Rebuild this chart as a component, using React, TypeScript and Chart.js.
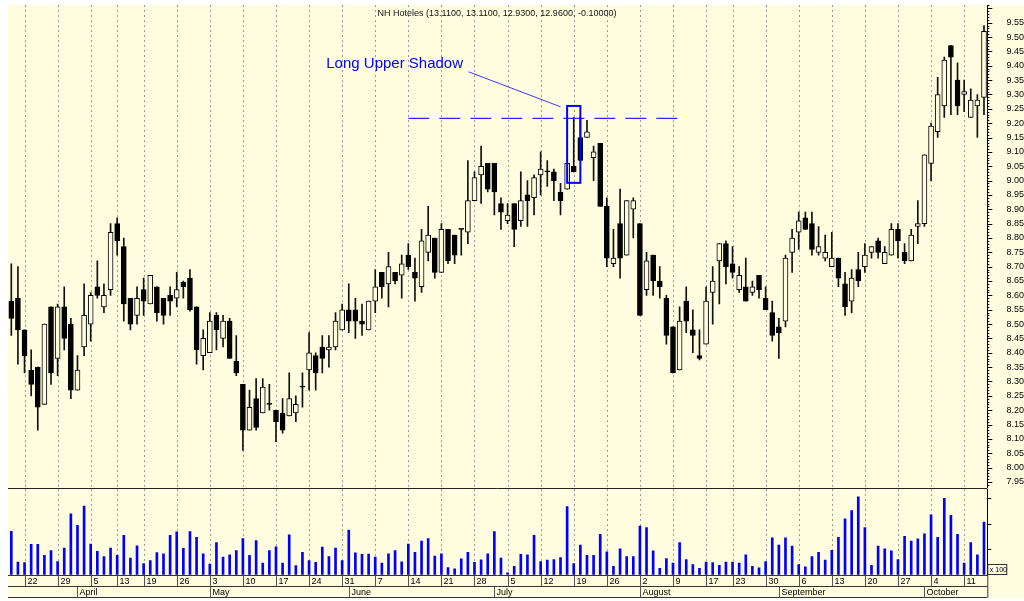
import React, { useEffect, useRef } from 'react';
import { Chart, registerables } from 'chart.js';

Chart.register(...registerables);

// ---------- calendar (categories) ----------
const START_DATE = '2004-03-18';
const END_DATE = '2004-10-14';
const HOLIDAYS = ['2004-04-09', '2004-04-12', '2004-08-16'];
const MONTH_NAMES = ['January', 'February', 'March', 'April', 'May', 'June', 'July', 'August', 'September', 'October', 'November', 'December'];

// ---------- series ----------
const OPEN = [
  8.58, 8.59, 8.48, 8.34, 8.35, 8.22, 8.56, 8.38, 8.56, 8.50,
  8.27, 8.42, 8.50, 8.63, 8.56, 8.62, 8.85, 8.77, 8.59, 8.53,
  8.62, 8.57, 8.63, 8.59, 8.60, 8.59, 8.645, 8.66, 8.56, 8.39,
  8.40, 8.53, 8.45, 8.51, 8.37, 8.29, 8.13, 8.24, 8.19, 8.22,
  8.20, 8.19, 8.18, 8.19, 8.28, 8.34, 8.39, 8.42, 8.41, 8.42,
  8.48, 8.55, 8.55, 8.51, 8.48, 8.58, 8.68, 8.64, 8.68, 8.67,
  8.74, 8.68, 8.63, 8.75, 8.80, 8.68, 8.83, 8.81, 8.83, 8.82,
  8.93, 9.02, 9.06, 9.06, 8.92, 8.86, 8.92, 8.86, 8.95, 8.94,
  9.02, 9.03, 9.03, 8.96, 8.97, 9.05, 9.15, 9.15, 9.08, 9.13,
  8.91, 8.71, 8.85, 8.74, 8.90, 8.85, 8.62, 8.74, 8.65, 8.59,
  8.49, 8.34, 8.58, 8.48, 8.39, 8.43, 8.61, 8.72, 8.78, 8.71,
  8.62, 8.63, 8.61, 8.67, 8.59, 8.54, 8.49, 8.51, 8.75, 8.82,
  8.87, 8.85, 8.75, 8.73, 8.70, 8.73, 8.64, 8.58, 8.69, 8.70,
  8.75, 8.79, 8.71, 8.74, 8.83, 8.75, 8.72, 8.84, 8.85, 9.06,
  9.17, 9.26, 9.47, 9.35, 9.30, 9.22, 9.26, 9.29,
];
const HIGH = [
  8.71, 8.70, 8.48, 8.41, 8.35, 8.50, 8.56, 8.57, 8.63, 8.52,
  8.39, 8.64, 8.61, 8.72, 8.64, 8.85, 8.87, 8.80, 8.59, 8.63,
  8.66, 8.67, 8.63, 8.59, 8.63, 8.68, 8.65, 8.69, 8.56, 8.48,
  8.54, 8.54, 8.53, 8.52, 8.46, 8.29, 8.27, 8.31, 8.31, 8.29,
  8.20, 8.24, 8.33, 8.25, 8.33, 8.47, 8.40, 8.46, 8.46, 8.54,
  8.57, 8.64, 8.59, 8.57, 8.58, 8.69, 8.68, 8.75, 8.68, 8.74,
  8.78, 8.73, 8.83, 8.91, 8.80, 8.85, 8.83, 8.81, 8.83, 9.07,
  9.03, 9.12, 9.06, 9.06, 8.94, 8.92, 8.92, 9.03, 9.00, 9.02,
  9.10, 9.07, 9.04, 8.99, 9.06, 9.22, 9.22, 9.21, 9.12, 9.13,
  8.94, 8.83, 8.97, 8.93, 8.94, 8.85, 8.75, 8.74, 8.70, 8.60,
  8.49, 8.56, 8.63, 8.55, 8.48, 8.63, 8.70, 8.78, 8.79, 8.77,
  8.70, 8.73, 8.65, 8.67, 8.63, 8.58, 8.52, 8.74, 8.83, 8.89,
  8.89, 8.89, 8.84, 8.81, 8.82, 8.73, 8.68, 8.69, 8.75, 8.78,
  8.77, 8.80, 8.77, 8.85, 8.85, 8.78, 8.83, 8.93, 9.09, 9.20,
  9.36, 9.43, 9.47, 9.41, 9.35, 9.32, 9.30, 9.54,
];
const LOW = [
  8.46, 8.36, 8.33, 8.25, 8.13, 8.22, 8.29, 8.32, 8.41, 8.24,
  8.27, 8.39, 8.44, 8.59, 8.54, 8.60, 8.74, 8.51, 8.48, 8.50,
  8.53, 8.57, 8.51, 8.50, 8.53, 8.56, 8.59, 8.545, 8.36, 8.34,
  8.40, 8.41, 8.42, 8.38, 8.32, 8.06, 8.13, 8.13, 8.19, 8.20,
  8.09, 8.12, 8.18, 8.16, 8.21, 8.27, 8.27, 8.33, 8.35, 8.41,
  8.48, 8.47, 8.45, 8.46, 8.48, 8.54, 8.59, 8.56, 8.64, 8.59,
  8.69, 8.58, 8.61, 8.72, 8.66, 8.68, 8.71, 8.71, 8.74, 8.78,
  8.93, 8.92, 8.96, 8.88, 8.83, 8.85, 8.77, 8.84, 8.84, 8.88,
  8.95, 8.98, 8.93, 8.88, 8.97, 9.03, 9.07, 9.15, 9.00, 8.91,
  8.70, 8.70, 8.66, 8.74, 8.80, 8.53, 8.60, 8.60, 8.59, 8.43,
  8.33, 8.34, 8.47, 8.40, 8.375, 8.43, 8.50, 8.57, 8.64, 8.66,
  8.61, 8.58, 8.60, 8.59, 8.55, 8.44, 8.38, 8.49, 8.68, 8.76,
  8.83, 8.74, 8.74, 8.72, 8.70, 8.63, 8.53, 8.54, 8.63, 8.68,
  8.73, 8.73, 8.71, 8.74, 8.73, 8.71, 8.72, 8.78, 8.84, 9.00,
  9.15, 9.22, 9.23, 9.23, 9.24, 9.22, 9.15, 9.23,
];
const CLOSE = [
  8.52, 8.48, 8.39, 8.29, 8.21, 8.50, 8.33, 8.56, 8.45, 8.27,
  8.34, 8.53, 8.60, 8.60, 8.60, 8.82, 8.79, 8.57, 8.50, 8.59,
  8.58, 8.67, 8.54, 8.53, 8.58, 8.62, 8.63, 8.55, 8.41, 8.45,
  8.51, 8.48, 8.51, 8.38, 8.33, 8.13, 8.21, 8.14, 8.28, 8.22,
  8.16, 8.13, 8.24, 8.22, 8.28, 8.40, 8.33, 8.38, 8.42, 8.51,
  8.55, 8.51, 8.51, 8.50, 8.58, 8.63, 8.63, 8.70, 8.65, 8.71,
  8.70, 8.66, 8.79, 8.81, 8.68, 8.83, 8.72, 8.74, 8.83, 8.93,
  9.01, 9.05, 8.97, 8.96, 8.89, 8.88, 8.83, 8.93, 8.93, 9.01,
  9.04, 9.03, 9.00, 8.93, 9.06, 9.03, 9.07, 9.17, 9.10, 8.91,
  8.73, 8.73, 8.73, 8.93, 8.93, 8.53, 8.72, 8.65, 8.63, 8.46,
  8.33, 8.51, 8.51, 8.46, 8.38, 8.58, 8.65, 8.78, 8.70, 8.68,
  8.67, 8.58, 8.63, 8.62, 8.55, 8.46, 8.47, 8.73, 8.80, 8.86,
  8.83, 8.76, 8.77, 8.75, 8.73, 8.66, 8.56, 8.66, 8.65, 8.74,
  8.77, 8.75, 8.75, 8.83, 8.79, 8.72, 8.81, 8.85, 9.09, 9.19,
  9.30, 9.42, 9.43, 9.26, 9.31, 9.28, 9.28, 9.52,
];
const VOLUME = [
  8500, 2500, 2400, 5950, 5950, 3800, 4750, 2600, 5250, 11900,
  9650, 13400, 6000, 4600, 3600, 5250, 3800, 7700, 3300, 5650,
  2200, 2800, 4350, 4100, 7700, 8400, 5200, 8450, 7300, 4100,
  2100, 6300, 3500, 3900, 4750, 7050, 3800, 6700, 2300, 4750,
  5450, 2300, 7800, 1850, 4400, 2800, 2450, 5400, 3600, 5250,
  2800, 8700, 4300, 4000, 4050, 3500, 2300, 4100, 4750, 2550,
  6000, 4400, 6600, 7050, 3650, 4100, 1450, 1200, 3150, 4400,
  2450, 2950, 4100, 8450, 3300, 400, 1700, 4000, 3900, 7700,
  2600, 2900, 3000, 3400, 13300, 2200, 5800, 3800, 3800, 7900,
  4500, 1700, 5100, 3600, 3600, 9500, 9200, 4700, 1300, 3200,
  2300, 6300, 3000, 2000, 1300, 2500, 2400, 1900, 2500, 2500,
  2300, 3900, 1700, 1400, 2600, 7200, 5800, 7200, 5600, 2000,
  1600, 3600, 4400, 2900, 4800, 7300, 10900, 12500, 15200, 9200,
  1900, 5600, 5100, 4700, 3000, 7500, 6600, 7000, 8000, 11700,
  7300, 14900, 11600, 7900, 2300, 6300, 3900, 10300,
];

// ---------- axis tick labels ----------
const PRICE_LABEL_RANGE = [7.95, 9.55];
const VOLUME_TICKS = [5000, 10000, 15000];
const VOLUME_UNIT_LABEL = 'x 100';

// ---------- texts & annotation (in data coordinates: category index, price) ----------
const TITLE = 'NH Hoteles (13.1100, 13.1100, 12.9300, 12.9600, -0.10000)';
const NOTE_TEXT = 'Long Upper Shadow';
const NOTE_ANCHOR = [47.6, 9.392];
const NOTE_POINTER = [[69.1, 9.379], [83.0, 9.257]];
const SHADOW_BOX = [84, 86, 8.992, 9.26];
const RESISTANCE = [60, 101, 9.217];

// ---------- styling ----------
const CREAM = '#FFFDE0';
const GRID = '#9c9c9c';
const BLUE = '#0000FF';
const FONT = '"Liberation Sans", Arial, sans-serif';
const AXIS_W = 36.7;
const PRICE_RANGE = [7.9288, 9.6117];
const VOLUME_MAX = 16700;

function buildDates(): string[] {
  const out: string[] = [];
  const d = new Date(START_DATE + 'T00:00:00Z');
  const end = new Date(END_DATE + 'T00:00:00Z');
  while (d <= end) {
    const dow = d.getUTCDay();
    const iso = d.toISOString().slice(0, 10);
    if (dow !== 0 && dow !== 6 && !HOLIDAYS.includes(iso)) out.push(iso);
    d.setUTCDate(d.getUTCDate() + 1);
  }
  return out;
}

const DATES = buildDates();
const dowOf = (s: string) => new Date(s + 'T00:00:00Z').getUTCDay();
const WEEK_STARTS = DATES.map((s, i) => (i > 0 && dowOf(s) <= dowOf(DATES[i - 1]) ? i : -1)).filter((i) => i >= 0);
const MONTH_STARTS = DATES.map((s, i) => (i > 0 && s.slice(5, 7) !== DATES[i - 1].slice(5, 7) ? i : -1)).filter((i) => i >= 0);

function line(ctx: CanvasRenderingContext2D, x1: number, y1: number, x2: number, y2: number) {
  ctx.beginPath();
  ctx.moveTo(x1, y1);
  ctx.lineTo(x2, y2);
  ctx.stroke();
}

function drawWeekGrid(chart: any) {
  const { ctx, chartArea, scales } = chart;
  ctx.save();
  ctx.strokeStyle = GRID;
  ctx.lineWidth = 1;
  ctx.setLineDash([2, 3]);
  WEEK_STARTS.forEach((i) => {
    const px = Math.round(scales.x.getPixelForValue(i)) + 0.5;
    line(ctx, px, chartArea.top, px, chartArea.bottom);
  });
  ctx.restore();
}

const pricePlugin = {
  id: 'pricePanel',
  beforeDraw(chart: any) {
    const { ctx, width, height } = chart;
    ctx.save();
    ctx.fillStyle = CREAM;
    ctx.fillRect(0, 0, width, height);
    ctx.restore();
  },
  beforeDatasetsDraw(chart: any) {
    drawWeekGrid(chart);
  },
  afterDraw(chart: any) {
    const { ctx, chartArea, scales } = chart;
    const x = scales.x;
    const y = scales.y;
    ctx.save();
    // minor / major ticks on price axis
    ctx.strokeStyle = '#000';
    ctx.lineWidth = 1;
    for (let k = Math.ceil(PRICE_RANGE[0] * 100); k <= Math.floor(PRICE_RANGE[1] * 100); k++) {
      const py = Math.round(y.getPixelForValue(k / 100)) + 0.5;
      const len = k % 5 === 0 ? 5 : 2;
      line(ctx, chartArea.right, py, chartArea.right + len, py);
    }
    // title
    ctx.fillStyle = '#111';
    ctx.font = `9px ${FONT}`;
    ctx.textAlign = 'center';
    ctx.textBaseline = 'middle';
    ctx.fillText(TITLE, 489, 8.5);

    // resistance dashed line
    ctx.strokeStyle = '#2b2bff';
    ctx.lineWidth = 1.3;
    ctx.setLineDash([21, 10]);
    const ry = y.getPixelForValue(RESISTANCE[2]);
    line(ctx, x.getPixelForValue(RESISTANCE[0]), ry, x.getPixelForValue(RESISTANCE[1]), ry);
    ctx.setLineDash([]);

    // pointer line
    ctx.strokeStyle = '#3a3aff';
    ctx.lineWidth = 1;
    line(
      ctx,
      x.getPixelForValue(NOTE_POINTER[0][0]), y.getPixelForValue(NOTE_POINTER[0][1]),
      x.getPixelForValue(NOTE_POINTER[1][0]), y.getPixelForValue(NOTE_POINTER[1][1])
    );

    // box around the long upper shadow candle
    ctx.strokeStyle = BLUE;
    ctx.lineWidth = 2;
    const bx1 = x.getPixelForValue(SHADOW_BOX[0]);
    const bx2 = x.getPixelForValue(SHADOW_BOX[1]);
    const by1 = y.getPixelForValue(SHADOW_BOX[3]);
    const by2 = y.getPixelForValue(SHADOW_BOX[2]);
    ctx.strokeRect(bx1, by1, bx2 - bx1, by2 - by1);

    // note text
    ctx.fillStyle = BLUE;
    ctx.font = `15px ${FONT}`;
    ctx.textAlign = 'left';
    ctx.textBaseline = 'alphabetic';
    ctx.fillText(NOTE_TEXT, x.getPixelForValue(NOTE_ANCHOR[0]), y.getPixelForValue(NOTE_ANCHOR[1]));
    ctx.restore();
  },
};

const volumePlugin = {
  id: 'volumePanel',
  beforeDraw(chart: any) {
    const { ctx, width, height } = chart;
    ctx.save();
    ctx.fillStyle = '#FFFFFF';
    ctx.fillRect(0, 0, width, height);
    ctx.fillStyle = CREAM;
    ctx.fillRect(0, 0, width, 110);
    ctx.restore();
  },
  beforeDatasetsDraw(chart: any) {
    drawWeekGrid(chart);
  },
  afterDraw(chart: any) {
    const { ctx, chartArea, scales } = chart;
    const x = scales.x;
    const y = scales.y;
    const right = chartArea.right;
    const r0 = chartArea.bottom + 0.5;
    const r1 = r0 + 11;
    const r2 = r1 + 11;
    ctx.save();
    ctx.strokeStyle = '#222';
    ctx.lineWidth = 1;
    // panel divider
    line(ctx, 0, 0.5, right, 0.5);
    // date rows
    ctx.strokeStyle = '#333';
    line(ctx, 0, r0, right, r0);
    line(ctx, 0, r1, right, r1);
    line(ctx, 0, r2, right, r2);
    line(ctx, right + 0.5, r0, right + 0.5, r2);
    ctx.fillStyle = '#000';
    ctx.font = `9px ${FONT}`;
    ctx.textAlign = 'left';
    ctx.textBaseline = 'middle';
    WEEK_STARTS.forEach((i) => {
      const px = Math.round(x.getPixelForValue(i)) + 0.5;
      ctx.strokeStyle = '#555';
      line(ctx, px, r0, px, r1);
      ctx.fillText(String(Number(DATES[i].slice(8, 10))), px + 2, (r0 + r1) / 2 + 0.5);
    });
    MONTH_STARTS.forEach((i) => {
      const px = Math.round(x.getPixelForValue(i)) + 0.5;
      ctx.strokeStyle = '#555';
      line(ctx, px, r1, px, r2);
      ctx.fillText(MONTH_NAMES[Number(DATES[i].slice(5, 7)) - 1], px + 2, (r1 + r2) / 2 + 0.5);
    });
    // volume axis ticks
    ctx.strokeStyle = '#000';
    VOLUME_TICKS.forEach((v) => {
      const py = Math.round(y.getPixelForValue(v)) + 0.5;
      line(ctx, right, py, right + 4, py);
    });
    // unit box
    ctx.strokeStyle = '#333';
    ctx.strokeRect(right + 0.5, chartArea.bottom - 10.5, 19, 10);
    ctx.font = `7px ${FONT}`;
    ctx.fillText(VOLUME_UNIT_LABEL, right + 2.5, chartArea.bottom - 5);
    ctx.restore();
  },
};

function fixAxis(scale: any) {
  scale.width = AXIS_W;
  scale.paddingTop = 0;
  scale.paddingBottom = 0;
}

export default function App() {
  const priceRef = useRef<HTMLCanvasElement>(null);
  const volRef = useRef<HTMLCanvasElement>(null);

  useEffect(() => {
    const bodyData = OPEN.map((o, i) => [o, CLOSE[i]]);
    const wickData = LOW.map((l, i) => [l, HIGH[i]]);

    const priceChart = new Chart(priceRef.current as HTMLCanvasElement, {
      type: 'bar',
      data: {
        labels: DATES,
        datasets: [
          {
            label: 'body',
            data: bodyData as any,
            order: 0,
            grouped: false,
            barThickness: 5,
            minBarLength: 1,
            borderWidth: 1,
            borderSkipped: false,
            borderColor: '#000',
            backgroundColor: (c: any) => (CLOSE[c.dataIndex] > OPEN[c.dataIndex] ? CREAM : '#000'),
          } as any,
          {
            label: 'wick',
            data: wickData as any,
            order: 1,
            grouped: false,
            barThickness: 1,
            borderWidth: 0,
            backgroundColor: '#111',
          } as any,
        ],
      },
      options: {
        animation: false,
        responsive: false,
        maintainAspectRatio: false,
        layout: { padding: 0 },
        plugins: { legend: { display: false }, tooltip: { enabled: false }, title: { display: false } },
        scales: {
          x: { type: 'category', display: false, offset: true },
          y: {
            position: 'right',
            min: PRICE_RANGE[0],
            max: PRICE_RANGE[1],
            afterFit: fixAxis,
            grid: { display: true, drawOnChartArea: false, drawTicks: false },
            border: { display: true, color: '#000', width: 1 },
            ticks: {
              stepSize: 0.05,
              includeBounds: false,
              autoSkip: false,
              padding: 15,
              crossAlign: 'far',
              color: '#000',
              font: { family: FONT, size: 9 },
              callback: (v: any) =>
                v < PRICE_LABEL_RANGE[0] - 0.001 || v > PRICE_LABEL_RANGE[1] + 0.001 ? '' : Number(v).toFixed(2),
            },
          },
        },
      } as any,
      plugins: [pricePlugin],
    });

    const volumeChart = new Chart(volRef.current as HTMLCanvasElement, {
      type: 'bar',
      data: {
        labels: DATES,
        datasets: [
          {
            label: 'volume',
            data: VOLUME,
            barThickness: 2,
            borderWidth: 0,
            backgroundColor: BLUE,
          } as any,
        ],
      },
      options: {
        animation: false,
        responsive: false,
        maintainAspectRatio: false,
        layout: { padding: { top: 1, bottom: 26, left: 0, right: 0 } },
        plugins: { legend: { display: false }, tooltip: { enabled: false }, title: { display: false } },
        scales: {
          x: { type: 'category', display: false, offset: true },
          y: {
            position: 'right',
            min: 0,
            max: VOLUME_MAX,
            afterFit: fixAxis,
            grid: { display: true, drawOnChartArea: false, drawTicks: false },
            border: { display: true, color: '#000', width: 1 },
            ticks: {
              stepSize: 5000,
              includeBounds: false,
              autoSkip: false,
              padding: 1,
              crossAlign: 'far',
              color: '#000',
              font: { family: FONT, size: 9 },
              callback: (v: any) => (VOLUME_TICKS.includes(Number(v)) ? String(v) : ''),
            },
          },
        },
      } as any,
      plugins: [volumePlugin],
    });

    return () => {
      priceChart.destroy();
      volumeChart.destroy();
    };
  }, []);

  return (
    <div style={{ position: 'absolute', left: 0, top: 0, width: 1024, height: 601, background: '#fff', overflow: 'hidden' }}>
      <canvas
        ref={priceRef}
        width={1016}
        height={483}
        style={{ position: 'absolute', left: 8, top: 5, width: 1016, height: 483 }}
      />
      <canvas
        ref={volRef}
        width={1016}
        height={113}
        style={{ position: 'absolute', left: 8, top: 488, width: 1016, height: 113 }}
      />
    </div>
  );
}
